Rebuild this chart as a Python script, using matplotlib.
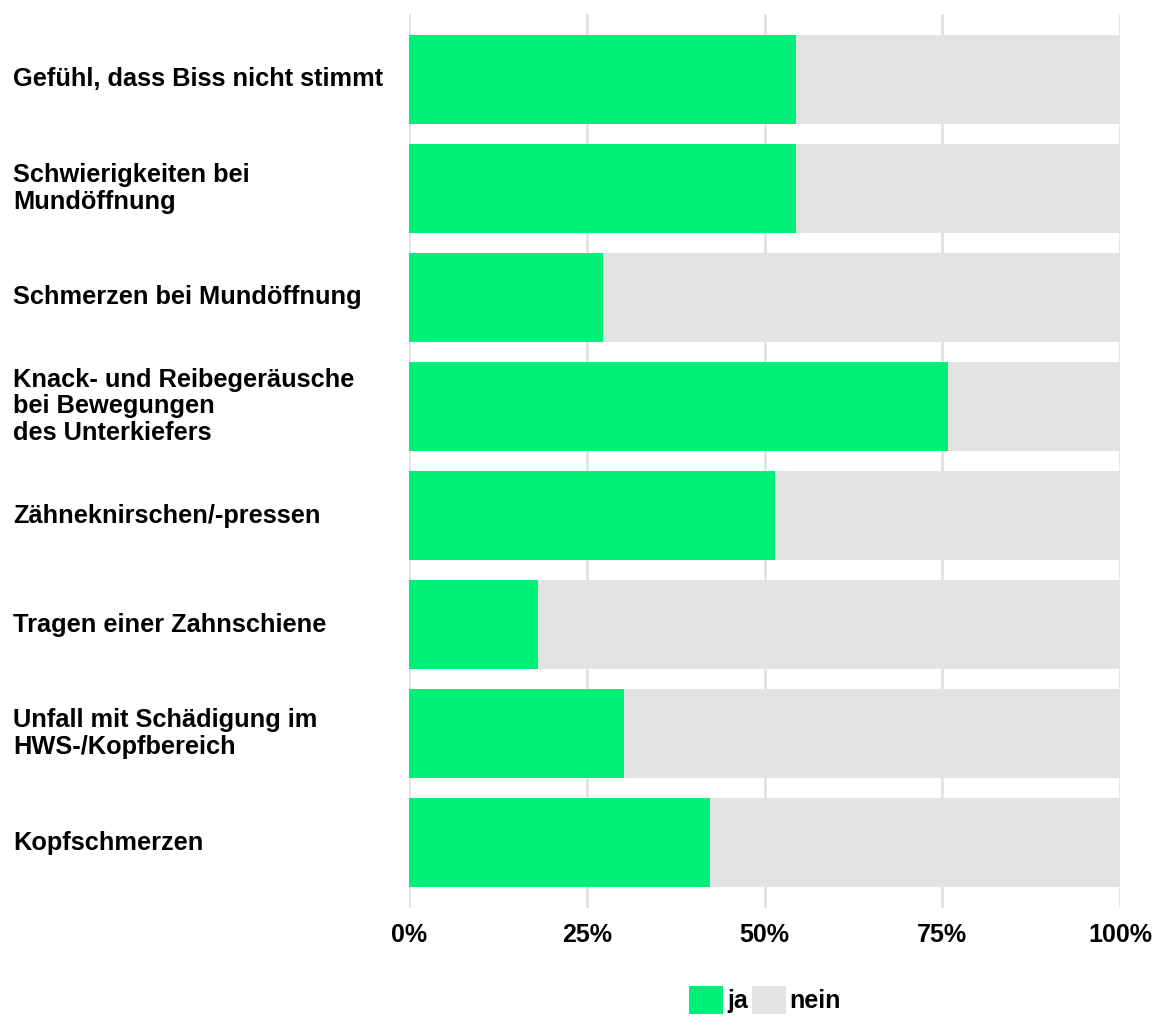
import matplotlib
matplotlib.use("Agg")
import matplotlib.pyplot as plt
from matplotlib.patches import Patch

categories = [
    "Gefühl, dass Biss nicht stimmt",
    "Schwierigkeiten bei\nMundöffnung",
    "Schmerzen bei Mundöffnung",
    "Knack- und Reibegeräusche\nbei Bewegungen\ndes Unterkiefers",
    "Zähneknirschen/-pressen",
    "Tragen einer Zahnschiene",
    "Unfall mit Schädigung im\nHWS-/Kopfbereich",
    "Kopfschmerzen",
]
ja = [54.5, 54.5, 27.3, 75.8, 51.5, 18.2, 30.3, 42.4]
nein = [100 - v for v in ja]
ticks = [0, 25, 50, 75, 100]
tick_labels = ["0%", "25%", "50%", "75%", "100%"]
series_names = ["ja", "nein"]

GREEN = "#00EF78"
GREY = "#E3E3E3"
FONT = "Liberation Sans"

W, H = 1157, 1016
fig = plt.figure(figsize=(W / 100, H / 100), dpi=100)
ax = fig.add_axes([409 / W, 1 - 908 / H, 711 / W, 894 / H])

y = list(range(len(categories)))
ax.barh(y, ja, height=0.81, color=GREEN, zorder=2)
ax.barh(y, nein, left=ja, height=0.81, color=GREY, zorder=2)

ax.set_xlim(0, 100)
ax.set_ylim(len(categories) - 1 + 0.6, -0.6)
ax.set_xticks(ticks)
ax.set_xticklabels(tick_labels, fontfamily=FONT, fontweight="bold", fontsize=18)
ax.tick_params(axis="x", length=0, pad=11)
ax.set_yticks([])
ax.grid(axis="x", color="#E2E2E2", linewidth=2, zorder=0)
for s in ax.spines.values():
    s.set_visible(False)

# category labels, left-aligned at the figure's left margin
x_left = (13 - 409) / 711 * 100
for yi, label in zip(y, categories):
    ax.text(x_left, yi, label, ha="left", va="center", fontsize=18.3,
            fontweight="bold", fontfamily=FONT, linespacing=1.15, clip_on=False)

handles = [Patch(facecolor=GREEN), Patch(facecolor=GREY)]
fig.legend(handles, series_names, loc="center", bbox_to_anchor=(765 / W, 1 - 1000 / H),
           ncol=2, frameon=False, handlelength=1.36, handleheight=1.3,
           handletextpad=0.16, columnspacing=0.16, borderpad=0, borderaxespad=0,
           prop={"family": FONT, "weight": "bold", "size": 18})

fig.savefig("out.png", dpi=100)
